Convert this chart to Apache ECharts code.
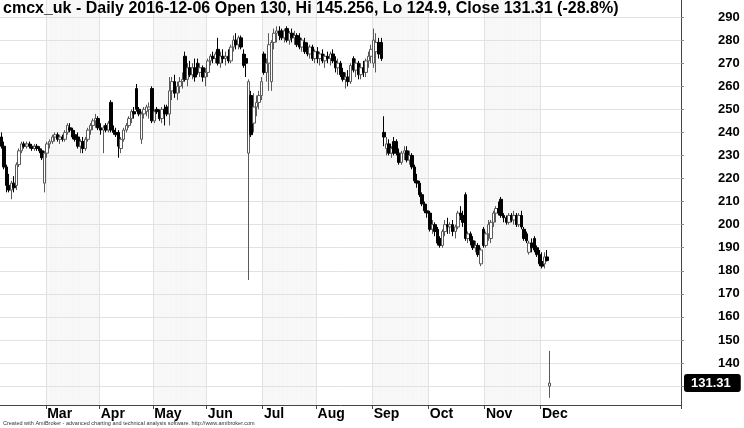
<!DOCTYPE html>
<html>
<head>
<meta charset="utf-8">
<script src="https://cdn.jsdelivr.net/npm/echarts@6/dist/echarts.min.js"></script>
<style>
  html, body { margin: 0; padding: 0; background: #fff; }
  #chart { width: 744px; height: 428px; }
</style>
</head>
<body>
<div id="chart"></div>
<script>
// bars as [open, high, low, close], one array per month
const feb = [
  [238, 240, 233, 234], [234, 236, 224, 225], [225, 226, 214, 217], [217, 222, 214, 215],
  [215, 219, 211, 218], [218, 221, 214, 216], [217, 227, 215, 226], [226, 233, 225, 232],
  [232, 236, 231, 235], [235, 236, 233, 234], [234, 236, 233, 235], [235, 236, 233, 234],
  [234, 235, 232, 233], [233, 235, 232, 234], [234, 235, 232, 233], [233, 234, 231, 232],
  [232, 233, 228, 229], [218, 232, 214, 231]
];
const mar = [
  [231, 236, 229, 235], [235, 237, 233, 236], [236, 239, 235, 238], [238, 240, 236, 239],
  [239, 240, 236, 237], [237, 239, 235, 238], [238, 239, 236, 237], [237, 241, 236, 240],
  [240, 244, 239, 243], [242, 244, 240, 241], [241, 242, 237, 238], [239, 241, 236, 237],
  [238, 240, 233, 234], [234, 237, 231, 236], [236, 238, 231, 233], [233, 238, 232, 237],
  [237, 242, 236, 241], [241, 244, 239, 243], [243, 246, 241, 245], [245, 248, 242, 246],
  [246, 247, 241, 242]
];
const apr = [
  [242, 244, 239, 241], [241, 243, 231, 242], [243, 244, 240, 241], [241, 245, 240, 244],
  [253, 254, 240, 241], [241, 243, 239, 240], [240, 242, 238, 239], [240, 241, 229, 234],
  [233, 238, 231, 237], [237, 242, 236, 241], [241, 244, 240, 243], [243, 247, 242, 246],
  [246, 250, 244, 249], [249, 251, 246, 248], [259, 261, 249, 250], [250, 251, 247, 248],
  [237, 249, 235, 248], [248, 251, 246, 250], [249, 252, 247, 251], [250, 253, 246, 251],
  [259, 260, 244, 245]
];
const may = [
  [245, 250, 244, 249], [250, 251, 248, 249], [249, 250, 245, 246], [246, 251, 244, 250],
  [250, 252, 243, 248], [251, 252, 247, 248], [248, 264, 243, 258], [258, 264, 254, 262],
  [262, 265, 255, 257], [257, 262, 254, 260], [260, 264, 257, 262], [262, 266, 259, 263],
  [273, 275, 262, 263], [263, 270, 260, 268], [268, 271, 264, 265], [265, 270, 263, 268],
  [268, 272, 262, 264], [270, 272, 265, 266], [266, 270, 264, 268], [268, 269, 262, 264],
  [264, 268, 260, 266]
];
const jun = [
  [266, 272, 264, 271], [271, 274, 269, 273], [273, 275, 270, 272], [272, 275, 270, 274],
  [276, 281, 269, 270], [270, 275, 268, 273], [273, 276, 270, 272], [272, 275, 269, 273],
  [273, 276, 270, 271], [271, 278, 270, 277], [277, 282, 275, 280], [280, 283, 276, 278],
  [278, 282, 276, 281], [281, 282, 276, 277], [274, 276, 268, 269], [272, 274, 264, 270],
  [231, 263, 176, 262], [256, 258, 238, 239], [244, 257, 240, 251], [251, 256, 247, 253],
  [253, 258, 250, 256], [256, 264, 254, 262]
];
const jul = [
  [274, 275, 265, 266], [266, 272, 262, 270], [270, 283, 258, 278], [262, 280, 258, 279],
  [279, 285, 276, 283], [283, 286, 279, 284], [284, 286, 280, 282], [284, 285, 280, 281],
  [281, 285, 279, 284], [285, 286, 279, 280], [280, 284, 278, 283], [283, 285, 279, 281],
  [281, 284, 278, 282], [282, 283, 277, 278], [281, 283, 276, 277], [277, 281, 275, 280],
  [279, 281, 274, 275], [277, 279, 273, 274], [274, 278, 272, 277], [277, 278, 271, 272],
  [272, 276, 270, 275]
];
const aug = [
  [275, 277, 270, 272], [272, 275, 269, 274], [274, 276, 270, 271], [271, 274, 268, 273],
  [273, 275, 270, 272], [272, 275, 269, 274], [274, 276, 270, 271], [271, 273, 266, 268],
  [268, 272, 265, 270], [270, 271, 264, 265], [266, 268, 262, 263], [263, 266, 259, 264],
  [264, 267, 260, 262], [262, 270, 261, 269], [272, 273, 266, 267], [267, 272, 264, 270],
  [270, 271, 263, 265], [265, 270, 263, 268], [268, 271, 264, 266], [266, 272, 264, 271],
  [271, 275, 268, 273], [273, 278, 270, 276]
];
const sep = [
  [270, 285, 268, 280], [275, 283, 266, 279], [279, 281, 272, 274], [279, 281, 271, 272],
  [240, 247, 234, 238], [233, 238, 230, 235], [235, 237, 230, 231], [231, 234, 229, 233],
  [236, 238, 230, 231], [236, 237, 230, 231], [231, 233, 226, 227], [227, 232, 226, 231],
  [231, 234, 228, 232], [232, 234, 227, 228], [228, 232, 226, 230], [230, 231, 224, 225],
  [225, 226, 218, 219], [219, 222, 216, 218], [218, 219, 212, 213], [213, 214, 208, 209],
  [209, 210, 205, 206], [206, 209, 203, 205]
];
const oct = [
  [205, 206, 197, 198], [198, 202, 196, 200], [200, 201, 195, 197], [198, 199, 191, 192],
  [194, 195, 190, 191], [191, 198, 190, 197], [197, 202, 195, 200], [200, 203, 196, 199],
  [199, 201, 196, 200], [200, 202, 195, 197], [197, 200, 194, 199], [199, 206, 198, 205],
  [205, 208, 202, 204], [204, 206, 199, 201], [213, 214, 193, 194], [194, 197, 192, 196],
  [196, 197, 191, 193], [193, 195, 189, 190], [190, 193, 188, 191], [191, 192, 186, 187],
  [183, 190, 182, 189], [198, 199, 190, 191]
];
const nov = [
  [191, 197, 190, 196], [196, 202, 193, 200], [194, 202, 192, 201], [201, 206, 199, 205],
  [205, 208, 201, 207], [207, 210, 204, 205], [211, 212, 203, 204], [204, 205, 201, 203],
  [203, 204, 200, 201], [201, 205, 200, 204], [204, 205, 201, 202], [202, 206, 200, 204],
  [204, 205, 199, 200], [200, 205, 199, 204], [204, 206, 198, 199], [198, 199, 193, 194],
  [196, 197, 192, 193], [188, 193, 187, 192], [192, 194, 188, 190], [194, 195, 188, 189],
  [190, 191, 186, 187], [187, 189, 182, 183]
];
const dec = [
  [184, 188, 181, 182], [183, 188, 181, 186], [186, 189, 184, 184.4], [130, 145.256, 124.9, 131.31]
];

const monthNames = ['Feb', 'Mar', 'Apr', 'May', 'Jun', 'Jul', 'Aug', 'Sep', 'Oct', 'Nov', 'Dec'];
const monthBars = [feb, mar, apr, may, jun, jul, aug, sep, oct, nov, dec];
const yTicks = [130, 140, 150, 160, 170, 180, 190, 200, 210, 220, 230, 240, 250, 260, 270, 280, 290];
const lastClose = 131.31;
const emptySlots = 51; // blank space to the right of the last bar

const categories = [];
const candles = [];
const shade = [];
monthBars.forEach((bars, m) => {
  bars.forEach((b, i) => {
    categories.push(monthNames[m] + '-' + i);
    candles.push([b[0], b[3], b[2], b[1]]);
    shade.push(m % 2 === 1 ? 1 : '-');
  });
});
for (let i = 0; i < emptySlots; i++) {
  categories.push('pad-' + i);
  candles.push('-');
  shade.push('-');
}

const isMonthStart = (v) => v.endsWith('-0') && v !== 'Feb-0' && !v.startsWith('pad');

const chart = echarts.init(document.getElementById('chart'));
chart.setOption({
  animation: false,
  title: [
    {
      text: 'cmcx_uk - Daily 2016-12-06 Open 130, Hi 145.256, Lo 124.9, Close 131.31 (-28.8%)',
      left: 3, top: 1, padding: 0,
      textStyle: { fontFamily: 'Liberation Sans', fontSize: 16, fontWeight: 'bold', color: '#000' }
    },
    {
      text: 'Created with AmiBroker - advanced charting and technical analysis software. http://www.amibroker.com',
      left: 3, top: 420, padding: 0,
      textStyle: { fontFamily: 'Liberation Sans', fontSize: 5.5, fontWeight: 'normal', color: '#333' }
    }
  ],
  grid: { left: 0, right: 63, top: 0, bottom: 23 },
  xAxis: {
    type: 'category',
    data: categories,
    boundaryGap: true,
    axisLine: { lineStyle: { color: '#444', width: 1 } },
    axisTick: { show: true, length: 4, interval: (i, v) => isMonthStart(v), lineStyle: { color: '#444' } },
    axisLabel: {
      interval: (i, v) => isMonthStart(v),
      formatter: (v) => v.split('-')[0],
      align: 'left', margin: 2,
      fontFamily: 'Liberation Sans', fontSize: 14, fontWeight: 'bold', color: '#000'
    },
    splitLine: { show: true, interval: (i, v) => isMonthStart(v), lineStyle: { color: '#e2e2e2' } }
  },
  yAxis: [
    {
      type: 'value',
      position: 'right',
      min: 121.8,
      max: 297.4,
      axisLine: { show: true, lineStyle: { color: '#444' } },
      axisTick: { show: true, length: 3, customValues: yTicks, lineStyle: { color: '#888' } },
      axisLabel: {
        customValues: yTicks,
        margin: 37,
        align: 'left',
        fontFamily: 'Liberation Sans', fontSize: 13, fontWeight: 'bold', color: '#000'
      },
      splitLine: { show: true, lineStyle: { color: '#e2e2e2' } },
      axisPointer: {
        show: true,
        type: 'none',
        value: lastClose,
        status: 'show',
        triggerTooltip: false,
        label: {
          show: true,
          formatter: (p) => Number(p.value).toFixed(2),
          backgroundColor: '#000',
          color: '#fff',
          fontFamily: 'Liberation Sans', fontSize: 13, fontWeight: 'bold',
          padding: [3, 10, 2, 7],
          margin: 3
        }
      }
    },
    { type: 'value', min: 0, max: 1, show: false }
  ],
  series: [
    {
      type: 'bar',
      yAxisIndex: 1,
      data: shade,
      barCategoryGap: '0%',
      barWidth: '100%',
      itemStyle: { color: '#f7f7f7' },
      silent: true,
      z: -1
    },
    {
      type: 'candlestick',
      data: candles,
      barWidth: 3,
      itemStyle: {
        color: '#ffffff',
        color0: '#000000',
        borderColor: '#5a5a5a',
        borderColor0: '#000000',
        borderWidth: 1
      }
    }
  ]
});
</script>
</body>
</html>
